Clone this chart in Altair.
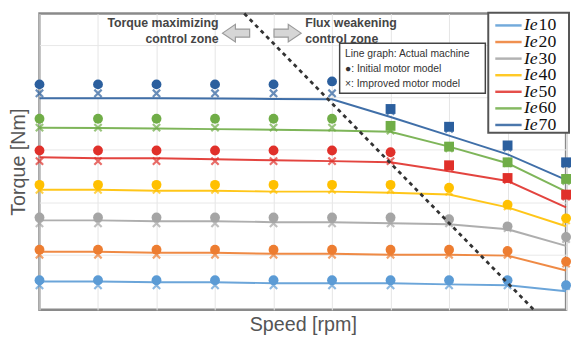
import altair as alt
import pandas as pd

# ---------------- data (torque in arbitrary units 0-100) ----------------
SERIES = ["Ie10", "Ie20", "Ie30", "Ie40", "Ie50", "Ie60", "Ie70"]
SERIES_NUM = ["10", "20", "30", "40", "50", "60", "70"]
COLORS = ["#5b9bd5", "#ed7d31", "#a5a5a5", "#ffc000", "#e0302a", "#70ad47", "#2b5f9e"]
SPEED_STEP = [0, 1, 2, 3, 4, 5, 6, 7, 8, 9]

# Line graph: actual machine
ACT_IE10 = [9.6, 9.6, 9.3, 9.3, 9.0, 9.0, 9.0, 8.6, 8.3, 6.3]
ACT_IE20 = [19.6, 19.6, 19.3, 19.3, 18.9, 18.9, 18.6, 18.6, 18.3, 13.3]
ACT_IE30 = [30.2, 30.2, 29.9, 29.9, 29.6, 29.6, 29.2, 28.9, 27.2, 21.6]
ACT_IE40 = [40.5, 40.5, 40.2, 40.2, 39.9, 39.9, 39.5, 38.9, 34.6, 28.2]
ACT_IE50 = [51.5, 51.2, 51.2, 50.8, 50.5, 50.2, 49.8, 46.8, 43.5, 34.6]
ACT_IE60 = [61.5, 61.4, 61.2, 61.0, 60.8, 60.5, 60.1, 55.1, 49.5, 39.9]
ACT_IE70 = [71.4, 71.4, 71.4, 71.3, 71.2, 71.1, 65.1, 58.8, 52.5, 43.9]

# Initial motor model (filled markers)
INIT_IE10 = [10.0, 10.0, 10.0, 10.0, 10.0, 10.0, 10.0, 10.0, 10.0, 8.3]
INIT_IE20 = [20.3, 20.3, 20.3, 20.3, 20.3, 20.3, 20.3, 20.3, 19.9, 16.3]
INIT_IE30 = [31.2, 31.2, 31.2, 31.2, 31.2, 31.2, 31.2, 30.6, 28.2, 24.6]
INIT_IE40 = [42.2, 42.2, 42.2, 42.2, 42.2, 42.2, 42.2, 41.2, 35.5, 30.9]
INIT_IE50 = [53.8, 53.8, 53.8, 53.8, 53.8, 53.8, 53.2, 48.8, 44.5, 38.9]
INIT_IE60 = [64.5, 64.5, 64.5, 64.5, 64.5, 64.5, 62.1, 55.1, 49.8, 44.2]
INIT_IE70 = [76.1, 76.1, 76.1, 76.1, 76.1, 77.1, 67.8, 61.8, 55.5, 49.8]

# Improved motor model (x markers)
IMP_IE10 = [8.3, 8.3, 8.3, 8.3, 8.3, 8.3, 8.3, 8.3, 8.3, 8.0]
IMP_IE20 = [18.6, 18.6, 18.6, 18.6, 18.6, 18.6, 18.6, 18.6, 18.6, 15.6]
IMP_IE30 = [29.2, 29.2, 29.2, 29.2, 29.2, 29.2, 29.2, 29.2, 27.6, 23.9]
IMP_IE40 = [40.5, 40.5, 40.5, 40.5, 40.5, 40.5, 40.5, 39.9, 34.9, 30.2]
IMP_IE50 = [50.2, 50.2, 50.2, 50.2, 50.2, 50.2, 50.2, 48.2, 43.9, 38.2]
IMP_IE60 = [61.5, 61.5, 61.5, 61.5, 61.5, 61.5, 60.5, 54.5, 49.5, 43.5]
IMP_IE70 = [73.1, 73.1, 73.1, 73.1, 73.1, 73.1, 67.1, 61.1, 54.8, 49.2]

# Initial-model marker drawn as a square from this speed step on (flux weakening zone)
SQUARE_FROM = {"Ie50": 7, "Ie60": 6, "Ie70": 6}

# Boundary between the two control zones (dashed line)
BOUNDARY_X = [3.5, 8.45]
BOUNDARY_Y = [100.0, 0.0]

Y_GRID = [18.5, 36.2, 54.0, 71.7, 89.4]

ACT = [ACT_IE10, ACT_IE20, ACT_IE30, ACT_IE40, ACT_IE50, ACT_IE60, ACT_IE70]
INIT = [INIT_IE10, INIT_IE20, INIT_IE30, INIT_IE40, INIT_IE50, INIT_IE60, INIT_IE70]
IMP = [IMP_IE10, IMP_IE20, IMP_IE30, IMP_IE40, IMP_IE50, IMP_IE60, IMP_IE70]

act_rows, init_rows, imp_rows = [], [], []
for name, a, b, c in zip(SERIES, ACT, INIT, IMP):
    for i, s in enumerate(SPEED_STEP):
        act_rows.append({"series": name, "speed": s, "torque": a[i]})
        shp = "square" if (name in SQUARE_FROM and s >= SQUARE_FROM[name]) else "circle"
        init_rows.append({"series": name, "speed": s, "torque": b[i], "shape": shp})
        imp_rows.append({"series": name, "speed": s, "torque": c[i]})
df_act = pd.DataFrame(act_rows)
df_init = pd.DataFrame(init_rows)
df_imp = pd.DataFrame(imp_rows)
df_bound = pd.DataFrame({"speed": BOUNDARY_X, "torque": BOUNDARY_Y})

# ---------------- encodings ----------------
xs = alt.Scale(domain=[0, 9], nice=False, zero=False)
ys = alt.Scale(domain=[0, 100], nice=False, zero=False)

FONT = "Liberation Sans"

x_enc = alt.X("speed:Q", scale=xs, axis=alt.Axis(
    title="Speed [rpm]", labels=False, ticks=False, domain=False,
    grid=True, gridColor="#e4e4e4", gridWidth=1, values=SPEED_STEP,
    titleFont=FONT, titleFontSize=20, titleFontWeight="normal", titleColor="#555555",
    titlePadding=5))
y_enc = alt.Y("torque:Q", scale=ys, axis=alt.Axis(
    title="Torque [Nm]", labels=False, ticks=False, domain=False,
    grid=True, gridColor="#e8e8e8", gridWidth=1, values=Y_GRID,
    titleFont=FONT, titleFontSize=20, titleFontWeight="normal", titleColor="#555555",
    titlePadding=11))
x2_enc = alt.X2("speed2:Q")
y2_enc = alt.Y2("torque2:Q")

color_scale = alt.Scale(domain=SERIES, range=COLORS)
color_enc = alt.Color("series:N", scale=color_scale, legend=None)

lines = alt.Chart(df_act).mark_line(strokeWidth=2, opacity=0.9).encode(
    x=x_enc, y=y_enc, color=color_enc, detail="series:N")

init_pts = alt.Chart(df_init).mark_point(filled=True, size=100, opacity=1).encode(
    x=x_enc, y=y_enc, color=color_enc,
    shape=alt.Shape("shape:N", scale=alt.Scale(domain=["circle", "square"], range=["circle", "square"]), legend=None))

X_PATH = "M-1,-1L1,1M-1,1L1,-1"
imp_pts = alt.Chart(df_imp).mark_point(shape=X_PATH, size=55, strokeWidth=2.2, filled=False, opacity=0.7).encode(
    x=x_enc, y=y_enc, color=color_enc)

boundary = alt.Chart(df_bound).mark_line(color="#333333", strokeWidth=2.8, strokeDash=[4, 4]).encode(
    x=x_enc, y=y_enc)

# ---------------- annotations (placed in data coordinates) ----------------
ann_left = pd.DataFrame({"speed": [3.06, 3.06], "torque": [96.8, 91.4],
                         "text": ["Torque maximizing", "control zone"]})
ann_right = pd.DataFrame({"speed": [4.54, 4.54], "torque": [96.8, 91.4],
                          "text": ["Flux weakening", "control zone"]})
txt_left = alt.Chart(ann_left).mark_text(align="right", baseline="middle", font=FONT,
                                          fontSize=12.5, fontWeight="bold", color="#454545").encode(
    x=x_enc, y=y_enc, text="text:N")
txt_right = alt.Chart(ann_right).mark_text(align="left", baseline="middle", font=FONT,
                                            fontSize=12.5, fontWeight="bold", color="#454545").encode(
    x=x_enc, y=y_enc, text="text:N")

LEFT_ARROW = "M1,-0.3L-0.05,-0.3L-0.05,-0.65L-1,0L-0.05,0.65L-0.05,0.3L1,0.3Z"
RIGHT_ARROW = "M-1,-0.3L0.05,-0.3L0.05,-0.65L1,0L0.05,0.65L0.05,0.3L-1,0.3Z"
arr_l = alt.Chart(pd.DataFrame({"speed": [3.36], "torque": [93.4]})).mark_point(
    shape=LEFT_ARROW, size=760, filled=True, fill="#d6d6d6", stroke="#9a9a9a", strokeWidth=1.2, opacity=1).encode(
    x=x_enc, y=y_enc)
arr_r = alt.Chart(pd.DataFrame({"speed": [4.24], "torque": [93.4]})).mark_point(
    shape=RIGHT_ARROW, size=760, filled=True, fill="#d6d6d6", stroke="#9a9a9a", strokeWidth=1.2, opacity=1).encode(
    x=x_enc, y=y_enc)

box = alt.Chart(pd.DataFrame({"speed": [5.13], "speed2": [7.62], "torque": [90.0], "torque2": [73.1]})).mark_rect(
    fill="white", stroke="#444444", strokeWidth=1.5).encode(
    x=x_enc, x2=x2_enc, y=y_enc, y2=y2_enc)
box_txt = alt.Chart(pd.DataFrame({
    "speed": [5.22, 5.22, 5.22], "torque": [86.2, 81.2, 76.2],
    "text": ["Line graph: Actual machine", "\u25cf: Initial motor model", "\u00d7: Improved motor model"]})).mark_text(
    align="left", baseline="middle", font=FONT, fontSize=10.5, color="#333333").encode(
    x=x_enc, y=y_enc, text="text:N")

# ---------------- legend (Ie italic, number upright, like the reference) ----------------
LEG_TOP, LEG_STEP = 96.0, 5.6
leg_rows = [LEG_TOP - LEG_STEP * i for i in range(len(SERIES))]
df_leg_sw = pd.DataFrame({"series": SERIES, "torque": leg_rows, "speed": 7.79, "speed2": 8.24})
df_leg_ie = pd.DataFrame({"text": ["Ie"] * len(SERIES), "torque": leg_rows, "speed": 8.28})
df_leg_num = pd.DataFrame({"text": SERIES_NUM, "torque": leg_rows, "speed": 8.53})

leg_box = alt.Chart(pd.DataFrame({"speed": [7.67], "speed2": [9.05], "torque": [100.3], "torque2": [59.8]})).mark_rect(
    fill="white", stroke="#555555", strokeWidth=2).encode(
    x=x_enc, x2=x2_enc, y=y_enc, y2=y2_enc)
leg_sw = alt.Chart(df_leg_sw).mark_rule(strokeWidth=2.5, opacity=0.85).encode(
    x=x_enc, x2=x2_enc, y=y_enc, color=color_enc)
leg_ie = alt.Chart(df_leg_ie).mark_text(align="left", baseline="middle", font="Liberation Serif",
                                        fontStyle="italic", fontSize=18, color="#111111").encode(
    x=x_enc, y=y_enc, text="text:N")
leg_num = alt.Chart(df_leg_num).mark_text(align="left", baseline="middle", font="Liberation Serif",
                                          fontSize=18, color="#111111").encode(
    x=x_enc, y=y_enc, text="text:N")

chart = alt.layer(
    lines, imp_pts, init_pts, boundary, txt_left, txt_right, arr_l, arr_r, box, box_txt,
    leg_box, leg_sw, leg_ie, leg_num
).properties(
    width=535, height=301,
    autosize=alt.AutoSizeParams(type="none"),
    padding={"left": 32, "top": 3, "right": 5, "bottom": 30},
    background="white",
).configure_view(
    stroke="#8a8a8a", strokeWidth=2.5
)

chart.save("out.html", embed_options={"renderer": "svg", "actions": False})
